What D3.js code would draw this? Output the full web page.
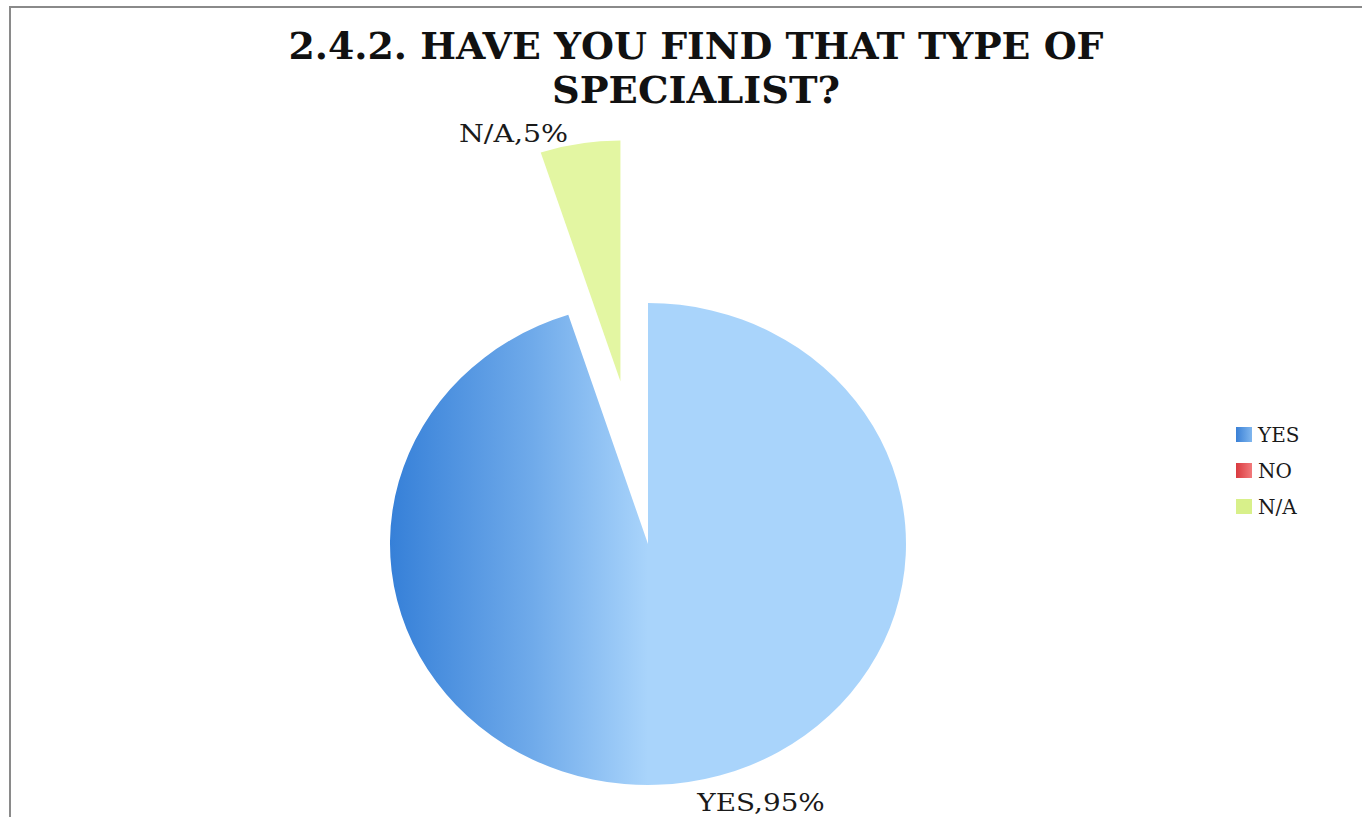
<!DOCTYPE html>
<html>
<head>
<meta charset="utf-8">
<script src="https://cdn.jsdelivr.net/npm/d3@7"></script>
<style>
  html, body { margin: 0; padding: 0; background: #ffffff; }
  svg { display: block; }
  .serif { font-family: "DejaVu Serif", "Liberation Serif", serif; }
</style>
</head>
<body>
<svg id="chart" width="1362" height="817"></svg>
<script>
// Survey answers
const categories = ["YES", "NO", "N/A"];
const values = [95, 0, 5];
const titleLines = ["2.4.2. HAVE YOU FIND THAT TYPE OF", "SPECIALIST?"];
const explodedCategory = "N/A";

const W = 1362, H = 817;
const svg = d3.select("#chart");
const defs = svg.append("defs");

// chart frame
svg.append("rect")
  .attr("x", 10).attr("y", 7)
  .attr("width", W + 20).attr("height", H + 20)
  .attr("fill", "#ffffff")
  .attr("stroke", "#8a8a8a").attr("stroke-width", 2);

// title
const title = svg.append("text")
  .attr("class", "serif")
  .attr("text-anchor", "middle")
  .attr("font-weight", "bold")
  .attr("font-size", 38)
  .attr("fill", "#111111");
const titleWidths = [815, 288];
title.selectAll("tspan").data(titleLines).join("tspan")
  .attr("x", 696)
  .attr("y", (d, i) => 59 + i * 44)
  .attr("textLength", (d, i) => titleWidths[i])
  .attr("lengthAdjust", "spacingAndGlyphs")
  .text(d => d);

// pie geometry
const cx = 648, cy = 544, R = 258, yScale = 241 / 258;
const explodeDist = 176;

const fills = {
  "YES": "url(#gradYes)",
  "NO": "url(#gradNo)",
  "N/A": "#e3f6a2"
};

// horizontal shading on the main slice: dark on the left, light toward the centre
const gYes = defs.append("linearGradient").attr("id", "gradYes")
  .attr("gradientUnits", "userSpaceOnUse")
  .attr("x1", -R).attr("y1", 0).attr("x2", 0).attr("y2", 0);
gYes.append("stop").attr("offset", 0).attr("stop-color", "#3680d8");
gYes.append("stop").attr("offset", 0.55).attr("stop-color", "#6faaea");
gYes.append("stop").attr("offset", 1).attr("stop-color", "#a9d4fb");

const gNo = defs.append("linearGradient").attr("id", "gradNo")
  .attr("x1", 0).attr("y1", 0).attr("x2", 1).attr("y2", 0);
gNo.append("stop").attr("offset", 0).attr("stop-color", "#d93a3f");
gNo.append("stop").attr("offset", 1).attr("stop-color", "#f27a7c");

const gLegYes = defs.append("linearGradient").attr("id", "gradLegYes")
  .attr("x1", 0).attr("y1", 0).attr("x2", 1).attr("y2", 0);
gLegYes.append("stop").attr("offset", 0).attr("stop-color", "#3a80d6");
gLegYes.append("stop").attr("offset", 1).attr("stop-color", "#7fb6ee");

const legendFills = { "YES": "url(#gradLegYes)", "NO": "url(#gradNo)", "N/A": "#d8f08a" };

const data = categories.map((c, i) => ({ cat: c, value: values[i] }));
const pie = d3.pie().sort(null).value(d => d.value);
const arcs = pie(data);
const arc = d3.arc().innerRadius(0).outerRadius(R);

function offsetFor(d) {
  if (d.data.cat !== explodedCategory) return [0, 0];
  const a = (d.startAngle + d.endAngle) / 2;
  return [Math.sin(a) * explodeDist, -Math.cos(a) * explodeDist];
}

const pieG = svg.append("g")
  .attr("transform", `translate(${cx},${cy}) scale(1,${yScale})`);

pieG.selectAll("path").data(arcs.filter(d => d.value > 0)).join("path")
  .attr("transform", d => `translate(${offsetFor(d)})`)
  .attr("d", arc)
  .attr("fill", d => fills[d.data.cat]);

// data labels "CATEGORY,value%"
function outerPoint(d) {
  const a = (d.startAngle + d.endAngle) / 2;
  const [ox, oy] = offsetFor(d);
  return [cx + ox + Math.sin(a) * R, cy + (oy - Math.cos(a) * R) * yScale];
}
arcs.filter(d => d.value > 0).forEach(d => {
  const [px, py] = outerPoint(d);
  const a = (d.startAngle + d.endAngle) / 2;
  const onLeft = Math.sin(a) < 0;
  const label = `${d.data.cat},${d.data.value}%`;
  svg.append("text")
    .attr("class", "serif")
    .attr("x", onLeft ? px - 12 : px + 9)
    .attr("y", onLeft ? py - 2 : py + 29)
    .attr("text-anchor", onLeft ? "end" : "start")
    .attr("font-size", 24)
    .attr("textLength", label.length * 18.2)
    .attr("lengthAdjust", "spacingAndGlyphs")
    .attr("fill", "#1a1a1a")
    .text(label);
});

// legend
const legend = svg.append("g").attr("transform", "translate(1236,427)");
const item = legend.selectAll("g").data(categories).join("g")
  .attr("transform", (d, i) => `translate(0,${i * 36})`);
item.append("rect")
  .attr("width", 16).attr("height", 15)
  .attr("fill", d => legendFills[d]);
item.append("text")
  .attr("class", "serif")
  .attr("x", 22).attr("y", 15)
  .attr("font-size", 20)
  .attr("fill", "#1a1a1a")
  .text(d => d);
</script>
</body>
</html>
